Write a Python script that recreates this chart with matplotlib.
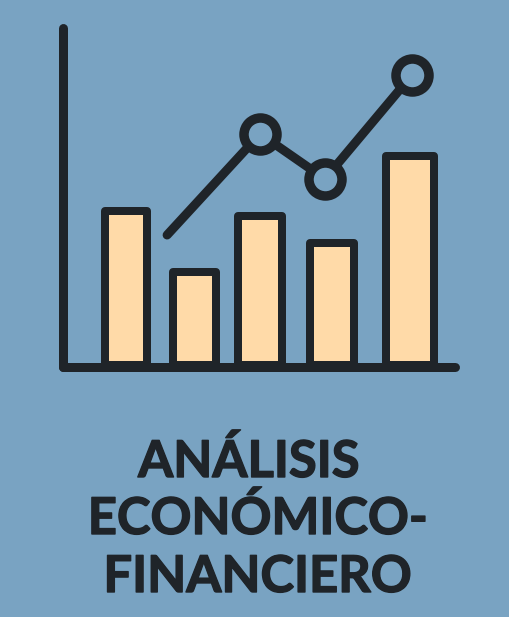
import matplotlib
matplotlib.use("Agg")
import matplotlib.pyplot as plt
import matplotlib.patheffects as pe

# ---- data ----
bar_pos = [2.1, 4.38, 6.57, 8.97, 11.57]
bar_values = [5.13, 3.1, 4.97, 4.07, 6.97]
bar_widths = [1.43, 1.43, 1.47, 1.47, 1.6]
line_x = [3.47, 6.57, 8.73, 11.63]
line_values = [4.4, 7.77, 6.27, 9.73]
title_lines = ["ANÁLISIS", "ECONÓMICO-", "FINANCIERO"]

BG = "#79A3C2"
DARK = "#1F2429"
FILL = "#FFDAA8"

W, H = 509, 617
fig = plt.figure(figsize=(W / 100, H / 100), dpi=100)
fig.patch.set_facecolor(BG)

# axes spanning pixel x 63..455, y 28..367
ax = fig.add_axes([63 / W, 1 - 367 / H, (455 - 63) / W, (367 - 28) / H])
ax.set_facecolor("none")
ax.set_xlim(0, (455 - 63) / 30)
ax.set_ylim(0, (367 - 28) / 30)

px = 0.72  # points per pixel
ax.bar(bar_pos, bar_values, width=bar_widths, bottom=0.07, color=FILL,
       edgecolor=DARK, linewidth=8 * px, joinstyle="round", zorder=2)

ax.plot(line_x, line_values, color=DARK, lw=9 * px, solid_capstyle="round",
        solid_joinstyle="round", marker="o", markevery=[1, 2, 3],
        markersize=33 * px, markerfacecolor=BG, markeredgecolor=DARK,
        markeredgewidth=9.5 * px, zorder=3, clip_on=False)

for s in ["top", "right"]:
    ax.spines[s].set_visible(False)
for s in ["left", "bottom"]:
    ax.spines[s].set_linewidth(9 * px)
    ax.spines[s].set_color(DARK)
    ax.spines[s].set_capstyle("round")
    ax.spines[s].set_zorder(4)
ax.set_xticks([])
ax.set_yticks([])

baselines = [477, 534, 592]
xcent = [249, 258, 258]
for t, b, xc in zip(title_lines, baselines, xcent):
    fig.text(xc / W, 1 - b / H, t, ha="center", va="baseline",
             fontsize=36.5, fontweight="bold", family="Lato", color=DARK,
             path_effects=[pe.withStroke(linewidth=1.0, foreground=DARK)])

fig.savefig("out.png", dpi=100, facecolor=BG)
